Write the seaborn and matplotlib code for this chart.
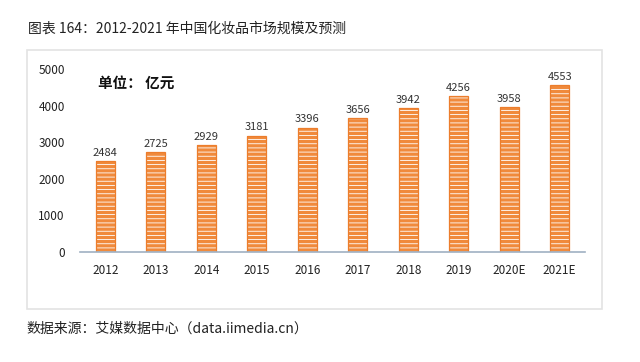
import matplotlib
matplotlib.use("Agg")
import matplotlib.pyplot as plt
import seaborn as sns
import pandas as pd
from matplotlib.patches import Rectangle

years = ["2012", "2013", "2014", "2015", "2016", "2017", "2018", "2019", "2020E", "2021E"]
market_size = [2484, 2725, 2929, 3181, 3396, 3656, 3942, 4256, 3958, 4553]
yticks = [0, 1000, 2000, 3000, 4000, 5000]

title = "图表 164：2012-2021 年中国化妆品市场规模及预测"
unit_label = "单位： 亿元"
source = "数据来源：艾媒数据中心（data.iimedia.cn）"

sns.set_style("white")
plt.rcParams["font.family"] = ["Noto Sans CJK SC", "DejaVu Sans"]
plt.rcParams["hatch.linewidth"] = 0.6

df = pd.DataFrame({"year": years, "value": market_size})

fig = plt.figure(figsize=(6.4, 3.62), dpi=100)

# light grey frame around chart area
fig.patches.append(Rectangle((0.042, 0.146), 0.898, 0.715, transform=fig.transFigure,
                             facecolor="white", edgecolor="#e3e3e3", linewidth=1.2, zorder=-1))

ax = fig.add_axes([0.125, 0.304, 0.789, 0.505])
ax.set_zorder(2)
ax.patch.set_alpha(0)

sns.barplot(data=df, x="year", y="value", color="#f08a3c", saturation=1, width=0.38,
            edgecolor="white", linewidth=0, hatch="----", ax=ax)
# orange outline
sns.barplot(data=df, x="year", y="value", fill=False, width=0.38,
            edgecolor="#ec7d2c", linewidth=0.9, ax=ax)

for i, v in enumerate(market_size):
    ax.text(i, v + 90, f"{v}", ha="center", va="bottom", fontsize=8, color="#333333")

ax.set_ylim(0, 5000)
ax.set_yticks(yticks)
ax.set_xlim(-0.5, 9.5)
ax.tick_params(axis="y", length=0, pad=11, labelsize=8.5, labelcolor="#222222")
ax.tick_params(axis="x", length=0, pad=9, labelsize=8.5, labelcolor="#222222")
ax.set_xlabel("")
ax.set_ylabel("")
sns.despine(ax=ax, left=True)
ax.spines["bottom"].set_color("#9fb0c2")
ax.spines["bottom"].set_linewidth(1.2)

ax.text(0.036, 0.925, unit_label, transform=ax.transAxes, fontsize=10.5, fontweight="bold",
        color="#111111", va="center")

fig.text(0.044, 0.921, title, fontsize=10, color="#222222", va="center")
fig.text(0.042, 0.092, source, fontsize=10, color="#222222", va="center")

fig.savefig("out.png", dpi=100)
